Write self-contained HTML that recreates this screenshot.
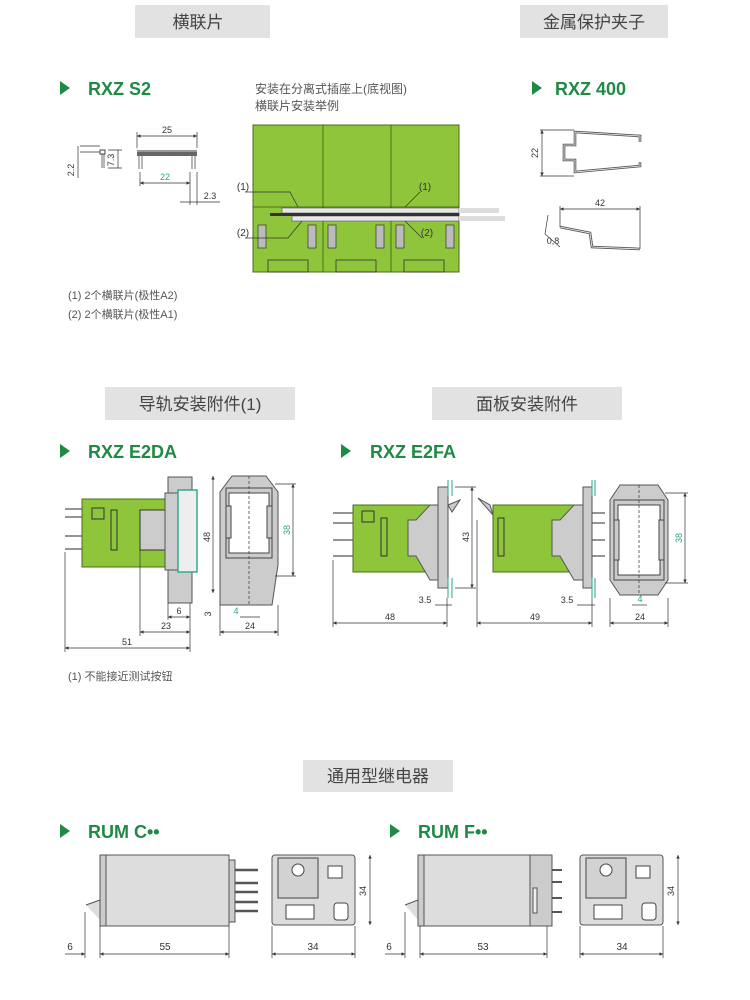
<!DOCTYPE html>
<html><head><meta charset="utf-8"><style>
html,body{margin:0;padding:0;background:#fff}
svg{display:block}
text{font-family:"Liberation Sans","Noto Sans CJK SC",sans-serif}
.h{font-size:17px;fill:#444;text-anchor:middle}
.t{font-size:18px;font-weight:bold;fill:#1e8a43}
.d{font-size:9px;fill:#333;text-anchor:middle}
.g{fill:#2aa58a}
.n{font-size:11px;fill:#555}
.l{stroke:#333;stroke-width:0.7;fill:none}
</style></head><body>
<svg width="750" height="1000" viewBox="0 0 750 1000" xmlns="http://www.w3.org/2000/svg">
<defs>
<marker id="a" viewBox="0 0 6 6" refX="6" refY="3" markerWidth="5" markerHeight="5" orient="auto-start-reverse"><path d="M0,0L6,3L0,6z" fill="#333"/></marker>
</defs>
<rect x="135" y="5" width="135" height="33" fill="#e2e2e2"/><text class="h" x="198" y="28">横联片</text>
<rect x="520" y="5" width="148" height="33" fill="#e2e2e2"/><text class="h" x="594" y="28">金属保护夹子</text>
<rect x="105" y="387" width="190" height="33" fill="#e2e2e2"/><text class="h" x="200" y="410">导轨安装附件(1)</text>
<rect x="432" y="387" width="190" height="33" fill="#e2e2e2"/><text class="h" x="527" y="410">面板安装附件</text>
<rect x="303" y="760" width="150" height="32" fill="#e2e2e2"/><text class="h" x="378" y="782">通用型继电器</text>

<g fill="#1e8a43">
<path d="M60,81L70,88L60,95z"/><path d="M532,81L542,88L532,95z"/>
<path d="M60,444L70,451L60,458z"/><path d="M341,444L351,451L341,458z"/>
<path d="M60,824L70,831L60,838z"/><path d="M390,824L400,831L390,838z"/>
</g>
<text class="t" x="88" y="95">RXZ S2</text>
<text class="t" x="555" y="95">RXZ 400</text>
<text class="t" x="88" y="458">RXZ E2DA</text>
<text class="t" x="370" y="458">RXZ E2FA</text>
<text class="t" x="88" y="838">RUM C••</text>
<text class="t" x="418" y="838">RUM F••</text>

<text class="n" x="255" y="93" style="font-size:12px">安装在分离式插座上(底视图)</text>
<text class="n" x="255" y="110" style="font-size:12px">横联片安装举例</text>

<rect x="137" y="150" width="60" height="6" fill="#666"/>
<rect x="137" y="150" width="60" height="2" fill="#999"/>
<path class="l" d="M139,156V169M142,156V169M192,156V169M195,156V169"/>
<path class="l" d="M137,148V132M197,148V132M140,172V186M190,172V205M197,172V205"/>
<line class="l" x1="137" y1="136" x2="197" y2="136" marker-start="url(#a)" marker-end="url(#a)"/>
<text class="d" x="167" y="133">25</text>
<line class="l" x1="140" y1="183" x2="190" y2="183" marker-start="url(#a)" marker-end="url(#a)"/>
<text class="d g" x="165" y="180">22</text>
<line class="l" x1="180" y1="202" x2="220" y2="202"/>
<text class="d" x="210" y="199">2.3</text>
<rect x="100" y="150" width="5" height="4" fill="none" stroke="#444"/>
<path class="l" d="M102,154V168M104,154V168M80,146H100M80,152H100M108,150H122M108,168H122"/>
<line class="l" x1="78" y1="146" x2="78" y2="178"/>
<line class="l" x1="118" y1="150" x2="118" y2="168"/>
<text class="d" x="74" y="170" transform="rotate(-90 74 170)">2.2</text>
<text class="d" x="114" y="160" transform="rotate(-90 114 160)">7.3</text>

<rect x="253" y="125" width="206" height="147" fill="#8fc53b" stroke="#4b6b1c" stroke-width="1"/>
<path stroke="#3d5a15" stroke-width="0.8" d="M323,125V272M391,125V272M253,207H459"/>
<rect x="282" y="208" width="177" height="5" fill="#e8e8e8" stroke="#555" stroke-width="0.6"/>
<rect x="292" y="216" width="167" height="5" fill="#e8e8e8" stroke="#555" stroke-width="0.6"/>
<rect x="270" y="213" width="189" height="3" fill="#333"/>
<rect x="459" y="208" width="40" height="5" fill="#ddd"/>
<rect x="459" y="216" width="46" height="5" fill="#ddd"/>
<g fill="#bbb" stroke="#333" stroke-width="0.7">
<rect x="258" y="225" width="8" height="23"/><rect x="308" y="225" width="8" height="23"/>
<rect x="328" y="225" width="8" height="23"/><rect x="376" y="225" width="8" height="23"/>
<rect x="396" y="225" width="8" height="23"/><rect x="446" y="225" width="8" height="23"/>
</g>
<g fill="none" stroke="#333" stroke-width="0.8">
<rect x="268" y="260" width="40" height="12"/><rect x="336" y="260" width="40" height="12"/><rect x="404" y="260" width="40" height="12"/>
</g>
<path class="l" d="M245,192H290L298,207M245,238H288L302,221M420,192L405,207M422,238L405,221"/>
<text class="d" x="243" y="190" style="font-size:10px">(1)</text>
<text class="d" x="243" y="236" style="font-size:10px">(2)</text>
<text class="d" x="425" y="190" style="font-size:10px">(1)</text>
<text class="d" x="427" y="236" style="font-size:10px">(2)</text>

<path fill="none" stroke="#555" stroke-width="2.6" d="M640,142V136L575,132V145H564V160H575V172L640,166V162"/>
<path fill="none" stroke="#f4f4f4" stroke-width="0.8" d="M640,142V136L575,132V145H564V160H575V172L640,166V162"/>
<line class="l" x1="542" y1="130" x2="542" y2="176" marker-start="url(#a)" marker-end="url(#a)"/>
<path class="l" d="M540,130H574M540,176H574"/>
<text class="d" x="538" y="153" transform="rotate(-90 538 153)">22</text>
<path fill="none" stroke="#555" stroke-width="2.6" d="M560,227L590,233L592,247L640,249"/>
<path fill="none" stroke="#f4f4f4" stroke-width="0.8" d="M560,227L590,233L592,247L640,249"/>
<line class="l" x1="560" y1="209" x2="640" y2="209" marker-start="url(#a)" marker-end="url(#a)"/>
<path class="l" d="M560,206V227M640,206V249M548,215L545,234L560,247"/>
<text class="d" x="600" y="206">42</text>
<text class="d" x="553" y="244">0,8</text>

<text class="n" x="68" y="299">(1) 2个横联片(极性A2)</text>
<text class="n" x="68" y="318">(2) 2个横联片(极性A1)</text>

<g stroke="#555" stroke-width="1.2"><path d="M65,509H82M65,517H82M65,536H82M65,549H82"/></g>
<rect x="82" y="499" width="83" height="68" fill="#8fc53b" stroke="#4b6b1c"/>
<rect x="92" y="508" width="12" height="11" fill="none" stroke="#333"/>
<rect x="111" y="510" width="6" height="40" fill="none" stroke="#333"/>
<rect x="140" y="510" width="28" height="40" fill="#ccc" stroke="#333"/>
<rect x="168" y="477" width="24" height="126" fill="#ccc" stroke="#555"/>
<rect x="165" y="493" width="13" height="77" fill="#ccc" stroke="#555"/>
<rect x="178" y="490" width="19" height="82" fill="#eee" stroke="#2aa58a" stroke-width="1.4"/>
<path fill="#ccc" stroke="#555" d="M232,476H266L278,492V565L272,605H220V492Z"/>
<rect x="226" y="488" width="46" height="70" fill="#ccc" stroke="#444"/>
<rect x="229" y="493" width="40" height="60" fill="#fff" stroke="#444"/>
<rect x="226" y="506" width="5" height="32" fill="#ccc" stroke="#444"/>
<rect x="267" y="506" width="5" height="32" fill="#ccc" stroke="#444"/>
<path class="l" d="M249,476V605" stroke-dasharray="3,2"/>
<line class="l" x1="213" y1="476" x2="213" y2="593" marker-start="url(#a)" marker-end="url(#a)"/>
<text class="d" x="210" y="537" transform="rotate(-90 210 537)">48</text>
<line class="l" x1="293" y1="484" x2="293" y2="576" marker-start="url(#a)" marker-end="url(#a)"/>
<path class="l" d="M275,484H296M275,576H296"/>
<text class="d g" x="290" y="530" transform="rotate(-90 290 530)">38</text>
<path class="l" d="M65,552V652M140,550V636M168,603V620M190,603V652M220,605V636M278,605V636"/>
<line class="l" x1="168" y1="617" x2="190" y2="617" marker-start="url(#a)" marker-end="url(#a)"/>
<text class="d" x="179" y="614">6</text>
<line class="l" x1="140" y1="632" x2="190" y2="632" marker-start="url(#a)" marker-end="url(#a)"/>
<text class="d" x="166" y="629">23</text>
<line class="l" x1="65" y1="648" x2="190" y2="648" marker-start="url(#a)" marker-end="url(#a)"/>
<text class="d" x="127" y="645">51</text>
<line class="l" x1="220" y1="632" x2="278" y2="632" marker-start="url(#a)" marker-end="url(#a)"/>
<text class="d" x="250" y="629">24</text>
<line class="l" x1="240" y1="617" x2="260" y2="617"/>
<text class="d g" x="236" y="614">4</text>
<text class="d" x="211" y="614" transform="rotate(-90 211 614)">3</text>
<text class="n" x="68" y="680">(1) 不能接近测试按钮</text>

<g stroke="#555" stroke-width="1.2"><path d="M333,513H353M333,523H353M333,540H353M333,556H353"/></g>
<rect x="353" y="505" width="85" height="67" fill="#8fc53b" stroke="#4b6b1c"/>
<rect x="362" y="511" width="12" height="11" fill="none" stroke="#333"/>
<rect x="381" y="518" width="6" height="38" fill="none" stroke="#333"/>
<path fill="#ccc" stroke="#555" d="M408,520H416L430,505H440V580H430L416,556H408Z"/>
<rect x="438" y="487" width="10" height="101" fill="#ccc" stroke="#555"/>
<path fill="#ccc" stroke="#555" d="M448,505L460,500L452,512Z"/>
<path stroke="#2aa58a" d="M448,480V496M452,480V496M448,578V598M452,578V598"/>
<path fill="#ccc" stroke="#555" d="M478,498L490,505L493,515Z"/>
<rect x="493" y="505" width="85" height="67" fill="#8fc53b" stroke="#4b6b1c"/>
<rect x="498" y="518" width="6" height="38" fill="none" stroke="#333"/>
<path fill="#ccc" stroke="#555" d="M552,520H560L574,505H584V580H574L560,556H552Z"/>
<rect x="583" y="487" width="9" height="101" fill="#ccc" stroke="#555"/>
<g stroke="#555" stroke-width="1.2"><path d="M592,513H605M592,523H605M592,540H605M592,556H605"/></g>
<path stroke="#2aa58a" d="M592,480V496M595,480V496M592,578V598M595,578V598"/>
<path fill="#ccc" stroke="#555" d="M620,485H658L668,500V580L658,595H620L610,580V500Z"/>
<rect x="614" y="500" width="50" height="80" fill="#ccc" stroke="#444"/>
<rect x="618" y="505" width="42" height="70" fill="#fff" stroke="#444"/>
<rect x="614" y="520" width="5" height="40" fill="#ccc" stroke="#444"/>
<rect x="659" y="520" width="5" height="40" fill="#ccc" stroke="#444"/>
<path class="l" d="M639,485V595" stroke-dasharray="3,2"/>
<line class="l" x1="472" y1="487" x2="472" y2="588" marker-start="url(#a)" marker-end="url(#a)"/>
<path class="l" d="M455,487H476M455,588H476"/>
<text class="d" x="469" y="537" transform="rotate(-90 469 537)">43</text>
<line class="l" x1="685" y1="493" x2="685" y2="583" marker-start="url(#a)" marker-end="url(#a)"/>
<path class="l" d="M665,493H688M665,583H688"/>
<text class="d g" x="682" y="538" transform="rotate(-90 682 538)">38</text>
<path class="l" d="M333,560V627M447,598V627M477,520V627M592,598V627M610,598V627M668,598V627"/>
<line class="l" x1="333" y1="623" x2="447" y2="623" marker-start="url(#a)" marker-end="url(#a)"/>
<text class="d" x="390" y="620">48</text>
<line class="l" x1="477" y1="623" x2="592" y2="623" marker-start="url(#a)" marker-end="url(#a)"/>
<text class="d" x="535" y="620">49</text>
<line class="l" x1="610" y1="623" x2="668" y2="623" marker-start="url(#a)" marker-end="url(#a)"/>
<text class="d" x="640" y="620">24</text>
<line class="l" x1="435" y1="605" x2="452" y2="605"/><text class="d" x="425" y="603">3.5</text>
<line class="l" x1="577" y1="605" x2="595" y2="605"/><text class="d" x="567" y="603">3.5</text>
<line class="l" x1="632" y1="605" x2="647" y2="605"/><text class="d g" x="640" y="602">4</text>

<path fill="#ddd" stroke="#555" d="M86,905L100,900V920"/>
<rect x="100" y="855" width="129" height="71" fill="#ddd" stroke="#555"/>
<rect x="100" y="855" width="6" height="71" fill="#ccc" stroke="#555"/>
<rect x="229" y="860" width="6" height="62" fill="#ccc" stroke="#555"/>
<g stroke="#555" stroke-width="2.5"><path d="M235,870H258M235,883H258M235,892H258M235,902H258M235,911H258"/></g>
<rect x="272" y="855" width="83" height="70" rx="3" fill="#ddd" stroke="#555"/>
<rect x="278" y="858" width="40" height="40" fill="#d2d2d2" stroke="#444"/>
<circle cx="298" cy="870" r="6" fill="#fff" stroke="#444"/>
<rect x="328" y="866" width="14" height="12" fill="#fff" stroke="#444"/>
<rect x="286" y="905" width="28" height="14" fill="#fff" stroke="#444"/>
<rect x="334" y="903" width="14" height="17" rx="3" fill="#fff" stroke="#444"/>
<line class="l" x1="370" y1="855" x2="370" y2="925" marker-start="url(#a)" marker-end="url(#a)"/>
<text class="d" x="366" y="891" transform="rotate(-90 366 891)">34</text>
<path class="l" d="M85,912V958M100,926V958M229,926V958M272,926V958M355,926V958"/>
<line class="l" x1="65" y1="954" x2="85" y2="954" marker-end="url(#a)"/>
<line class="l" x1="100" y1="954" x2="229" y2="954" marker-start="url(#a)" marker-end="url(#a)"/>
<line class="l" x1="272" y1="954" x2="355" y2="954" marker-start="url(#a)" marker-end="url(#a)"/>
<text class="d" x="70" y="950" style="font-size:10px">6</text>
<text class="d" x="165" y="950" style="font-size:10px">55</text>
<text class="d" x="313" y="950" style="font-size:10px">34</text>

<path fill="#ddd" stroke="#555" d="M405,905L418,900V920"/>
<rect x="418" y="855" width="130" height="71" fill="#ddd" stroke="#555"/>
<rect x="418" y="855" width="6" height="71" fill="#ccc" stroke="#555"/>
<rect x="530" y="855" width="22" height="71" fill="#ccc" stroke="#555"/>
<rect x="533" y="888" width="4" height="25" fill="#eee" stroke="#555"/>
<g stroke="#555" stroke-width="2"><path d="M552,870H562M552,882H562M552,898H562M552,912H562"/></g>
<rect x="580" y="855" width="83" height="70" rx="3" fill="#ddd" stroke="#555"/>
<rect x="586" y="858" width="40" height="40" fill="#d2d2d2" stroke="#444"/>
<circle cx="606" cy="870" r="6" fill="#fff" stroke="#444"/>
<rect x="636" y="866" width="14" height="12" fill="#fff" stroke="#444"/>
<rect x="594" y="905" width="28" height="14" fill="#fff" stroke="#444"/>
<rect x="642" y="903" width="14" height="17" rx="3" fill="#fff" stroke="#444"/>
<line class="l" x1="678" y1="855" x2="678" y2="925" marker-start="url(#a)" marker-end="url(#a)"/>
<text class="d" x="674" y="891" transform="rotate(-90 674 891)">34</text>
<path class="l" d="M405,912V958M420,926V958M547,926V958M580,926V958M663,926V958"/>
<line class="l" x1="385" y1="954" x2="405" y2="954" marker-end="url(#a)"/>
<line class="l" x1="420" y1="954" x2="547" y2="954" marker-start="url(#a)" marker-end="url(#a)"/>
<line class="l" x1="580" y1="954" x2="663" y2="954" marker-start="url(#a)" marker-end="url(#a)"/>
<text class="d" x="389" y="950" style="font-size:10px">6</text>
<text class="d" x="483" y="950" style="font-size:10px">53</text>
<text class="d" x="622" y="950" style="font-size:10px">34</text>
</svg>
</body></html>
